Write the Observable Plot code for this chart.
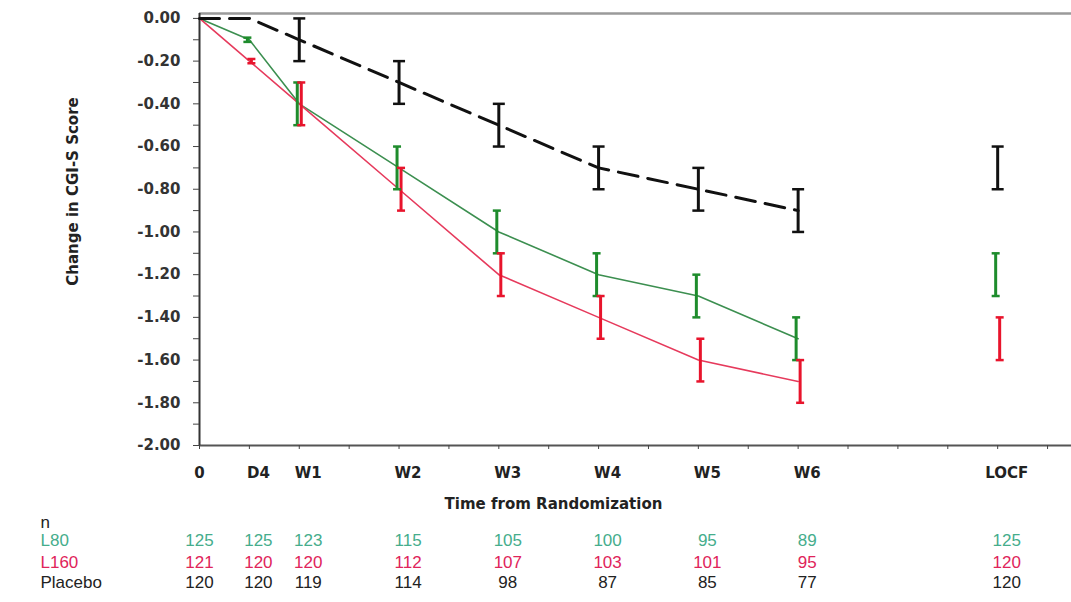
<!DOCTYPE html>
<html>
<head>
<meta charset="utf-8">
<script src="https://cdn.jsdelivr.net/npm/d3@7"></script>
<script src="https://cdn.jsdelivr.net/npm/@observablehq/plot@0.6"></script>
<style>
  html, body { margin: 0; padding: 0; background: #fff; }
  #chart { width: 1071px; height: 602px; }
</style>
</head>
<body>
<div id="chart"></div>
<script>
// ---- data ----
const timeLabels = ["0", "D4", "W1", "W2", "W3", "W4", "W5", "W6", "LOCF"];
const timeWeeks  = [0, 0.5, 1, 2, 3, 4, 5, 6, 8];
const series = ["L80", "L160", "Placebo"];

const l80Mean     = [0, -0.10, -0.40, -0.70, -1.00, -1.20, -1.30, -1.50, -1.20];
const l80Err      = [0,  0.01,  0.10,  0.10,  0.10,  0.10,  0.10,  0.10,  0.10];
const l160Mean    = [0, -0.20, -0.40, -0.80, -1.20, -1.40, -1.60, -1.70, -1.50];
const l160Err     = [0,  0.01,  0.10,  0.10,  0.10,  0.10,  0.10,  0.10,  0.10];
const placeboMean = [0,  0.00, -0.10, -0.30, -0.50, -0.70, -0.80, -0.90, -0.70];
const placeboErr  = [0,  0.00,  0.10,  0.10,  0.10,  0.10,  0.10,  0.10,  0.10];

const l80N     = [125, 125, 123, 115, 105, 100, 95, 89, 125];
const l160N    = [121, 120, 120, 112, 107, 103, 101, 95, 120];
const placeboN = [120, 120, 119, 114, 98, 87, 85, 77, 120];

const yTicks = [0, -0.2, -0.4, -0.6, -0.8, -1.0, -1.2, -1.4, -1.6, -1.8, -2.0];
const yMinorTicks = [-0.1, -0.3, -0.5, -0.7, -0.9, -1.1, -1.3, -1.5, -1.7, -1.9];
const xMinorTicks = [0, 0.5, 1, 1.5, 2, 2.5, 3, 3.5, 4, 4.5, 5, 5.5, 6, 6.5, 7, 7.5, 8, 8.5];

// ---- styles ----
const lineColor = {L80: "#3c8f50", L160: "#e63a5c", Placebo: "#111111"};
const barColor  = {L80: "#1e8c2c", L160: "#e8142c", Placebo: "#111111"};
const textColor = {L80: "#45ad8c", L160: "#e0245a", Placebo: "#222222"};
const barShift  = {L80: -2, L160: 2, Placebo: 0};
const capRadius = {L80: 4, L160: 4, Placebo: 6};

const xDomain = [0, 8.74];
const yDomain = [-2, 0.023];

// ---- build tables ----
const means = {L80: l80Mean, L160: l160Mean, Placebo: placeboMean};
const errs  = {L80: l80Err, L160: l160Err, Placebo: placeboErr};
const ns    = {L80: l80N, L160: l160N, Placebo: placeboN};
const lineCount = 8; // lines run from 0 to W6; LOCF stands alone

const lineData = series.flatMap(s =>
  means[s].slice(0, lineCount).map((v, i) => ({series: s, x: timeWeeks[i], y: v})));
const errData = series.flatMap(s =>
  means[s].map((v, i) => ({series: s, x: timeWeeks[i], y: v, lo: v - errs[s][i], hi: v + errs[s][i], e: errs[s][i]}))
    .filter(d => d.e > 0));
const capData = errData.flatMap(d => [{...d, y: d.lo}, {...d, y: d.hi}]);
const tableData = series.flatMap(s => ns[s].map((n, i) => ({series: s, x: timeWeeks[i], n, first: i === 0})));

const capSymbol = {
  draw(ctx, size) {
    const r = Math.sqrt(size / Math.PI);
    ctx.moveTo(-r, 0);
    ctx.lineTo(r, 0);
  }
};

const labelMap = new Map(timeWeeks.map((w, i) => [w, timeLabels[i]]));
const rowDy = {L80: 100, L160: 122, Placebo: 142};
const boldFont = "DejaVu Sans, Verdana, sans-serif";
const tableFont = "Liberation Sans, Arial, sans-serif";
const colShift = 9;

const marks = [
  // frame lines
  Plot.ruleY([yDomain[1]], {stroke: "#9a9a9a", strokeWidth: 2.5}),
  Plot.ruleY([yDomain[0]], {stroke: "#555", strokeWidth: 2}),
  Plot.ruleX([xDomain[0]], {stroke: "#333", strokeWidth: 2}),
  // y axis
  Plot.axisY(yTicks, {tickSize: 6, tickPadding: 13, tickFormat: d => d.toFixed(2), fontFamily: boldFont, fontWeight: "bold", fontSize: 15, fill: "#333", stroke: "#444", label: null}),
  Plot.axisY(yMinorTicks, {tickSize: 6, tickFormat: () => "", stroke: "#444", label: null}),
  // x axis
  Plot.axisX(xMinorTicks, {tickSize: 4, tickFormat: () => "", stroke: "#444", label: null}),
  Plot.axisX(timeWeeks.slice(0, 1), {tickSize: 0, tickPadding: 22, tickFormat: d => labelMap.get(d), fontFamily: boldFont, fontWeight: "bold", fontSize: 15, fill: "#222", label: null}),
  Plot.axisX(timeWeeks.slice(1), {tickSize: 0, tickPadding: 22, dx: colShift, tickFormat: d => labelMap.get(d), fontFamily: boldFont, fontWeight: "bold", fontSize: 15, fill: "#222", label: null}),
  // titles
  Plot.text(["Time from Randomization"], {frameAnchor: "bottom", dx: -82, dy: 63, fontFamily: boldFont, fontWeight: "bold", fontSize: 15, fill: "#222"}),
  Plot.text(["Change in CGI-S Score"], {frameAnchor: "left", textAnchor: "middle", dx: -126, dy: -38, rotate: -90, fontFamily: boldFont, fontWeight: "bold", fontSize: 15, fill: "#222"}),
  // lines
  Plot.line(lineData.filter(d => d.series !== "Placebo"), {x: "x", y: "y", z: "series", stroke: d => lineColor[d.series], strokeWidth: 1.6}),
  Plot.line(lineData.filter(d => d.series === "Placebo"), {x: "x", y: "y", stroke: lineColor.Placebo, strokeWidth: 3, strokeDasharray: "20,10"}),
  // error bars
  ...series.map(s => Plot.ruleX(errData.filter(d => d.series === s), {x: "x", y1: "lo", y2: "hi", stroke: barColor[s], strokeWidth: 3, dx: barShift[s]})),
  ...series.map(s => Plot.dot(capData.filter(d => d.series === s), {x: "x", y: "y", symbol: capSymbol, r: capRadius[s], stroke: barColor[s], strokeWidth: 2.5, dx: barShift[s]})),
  // table
  Plot.text(["n"], {frameAnchor: "bottom-left", dx: -159, dy: 82, textAnchor: "start", fontFamily: tableFont, fontSize: 17, fill: "#222"}),
  ...series.map(s => Plot.text([s], {frameAnchor: "bottom-left", dx: -159, dy: rowDy[s], textAnchor: "start", fontFamily: tableFont, fontSize: 17, fill: textColor[s]})),
  ...series.map(s => Plot.text(tableData.filter(d => d.series === s && d.first), {x: "x", text: "n", frameAnchor: "bottom", dy: rowDy[s], fontFamily: tableFont, fontSize: 17, fill: textColor[s]})),
  ...series.map(s => Plot.text(tableData.filter(d => d.series === s && !d.first), {x: "x", text: "n", frameAnchor: "bottom", dx: colShift, dy: rowDy[s], fontFamily: tableFont, fontSize: 17, fill: textColor[s]}))
];

const chart = Plot.plot({
  width: 1071,
  height: 602,
  marginLeft: 199,
  marginRight: 0,
  marginTop: 13,
  marginBottom: 157,
  x: {domain: xDomain},
  y: {domain: yDomain},
  style: {fontFamily: boldFont, background: "#fff", overflow: "visible"},
  marks
});
document.getElementById("chart").appendChild(chart);
</script>
</body>
</html>
